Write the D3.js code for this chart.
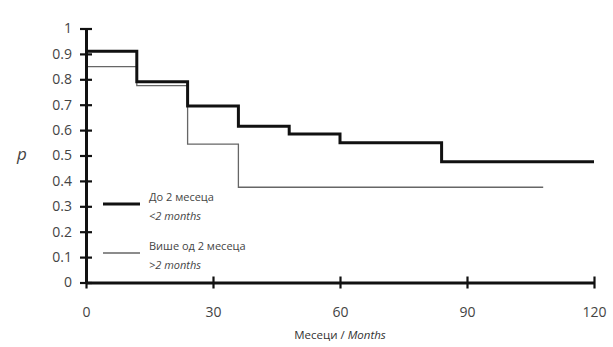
<!DOCTYPE html>
<html><head><meta charset="utf-8">
<script src="https://cdn.jsdelivr.net/npm/d3@7"></script>
<style>body{margin:0;background:#fff}svg{display:block}text{font-family:"Open Sans","DejaVu Sans",sans-serif;fill:#333}</style>
</head><body>
<svg id="c" width="613" height="347"></svg>
<script>
// Data (Kaplan-Meier step curves): times where step starts, survival values
const timesShort = [0, 12, 24, 36, 48, 60, 84, 120];
const survShort  = [0.91, 0.79, 0.695, 0.615, 0.585, 0.55, 0.475, 0.475];
const timesLong  = [0, 12, 24, 36, 108];
const survLong   = [0.85, 0.775, 0.545, 0.375, 0.375];
const xTicks = [0, 30, 60, 90, 120];
const yTicks = [0, 0.1, 0.2, 0.3, 0.4, 0.5, 0.6, 0.7, 0.8, 0.9, 1];
const legendLabels = [["До 2 месеца", "<2 months"], ["Више од 2 месеца", ">2 months"]];

const svg = d3.select("#c");
const x = d3.scaleLinear().domain([0, 120]).range([86, 594]);
const y = d3.scaleLinear().domain([0, 1]).range([282.5, 28.5]);

const line = d3.line().x(d => x(d[0])).y(d => y(d[1])).curve(d3.curveStepAfter);
const ptsS = timesShort.map((t, i) => [t, survShort[i]]);
const ptsL = timesLong.map((t, i) => [t, survLong[i]]);

svg.append("path").attr("d", line(ptsL)).attr("fill", "none").attr("stroke", "#666").attr("stroke-width", 1.3);
svg.append("path").attr("d", line(ptsS)).attr("fill", "none").attr("stroke", "#111").attr("stroke-width", 3);

// axes
const xAxis = svg.append("g").attr("transform", `translate(0,${y(0)})`)
  .call(d3.axisBottom(x).tickValues(xTicks).tickSizeInner(6).tickSizeOuter(0).tickPadding(19).tickFormat(d3.format("d")));
xAxis.select(".domain").attr("stroke", "#111").attr("stroke-width", 3);
xAxis.selectAll("text").attr("font-size", 14).style("fill", "#444");
xAxis.selectAll(".tick line").attr("y1", -6).attr("y2", 6).attr("stroke", "#111").attr("stroke-width", 2.2);

const yAxis = svg.append("g").attr("transform", `translate(${x(0)},0)`)
  .call(d3.axisLeft(y).tickValues(yTicks).tickSizeInner(6).tickSizeOuter(0).tickPadding(8).tickFormat(d => d === 0 || d === 1 ? d3.format("d")(d) : d3.format(".1f")(d)));
yAxis.select(".domain").attr("stroke", "#111").attr("stroke-width", 3);
yAxis.selectAll("text").attr("font-size", 14).style("fill", "#444");
yAxis.selectAll(".tick line").attr("x1", -6).attr("x2", 6).attr("stroke", "#111").attr("stroke-width", 2.2);

// axis titles
svg.append("text").attr("x", 22).attr("y", 160).attr("text-anchor", "middle").attr("font-size", 17).attr("font-style", "italic").style("fill", "#444").text("p");
const xt = svg.append("text").attr("x", 340).attr("y", 339).attr("text-anchor", "middle").attr("font-size", 11.5).style("fill", "#333");
xt.append("tspan").text("Месеци / ");
xt.append("tspan").attr("font-style", "italic").text("Months");

// legend
const leg = [{y: 204, w: 3, c: "#111"}, {y: 253, w: 1.3, c: "#666"}];
leg.forEach((l, i) => {
  svg.append("line").attr("x1", 103).attr("x2", 140).attr("y1", l.y).attr("y2", l.y).attr("stroke", l.c).attr("stroke-width", l.w);
  svg.append("text").attr("x", 149).attr("y", l.y - 3).attr("font-size", 11).style("fill", "#444").text(legendLabels[i][0]);
  svg.append("text").attr("x", 149).attr("y", l.y + 16).attr("font-size", 11).attr("font-style", "italic").style("fill", "#444").text(legendLabels[i][1]);
});
</script>
</body></html>
